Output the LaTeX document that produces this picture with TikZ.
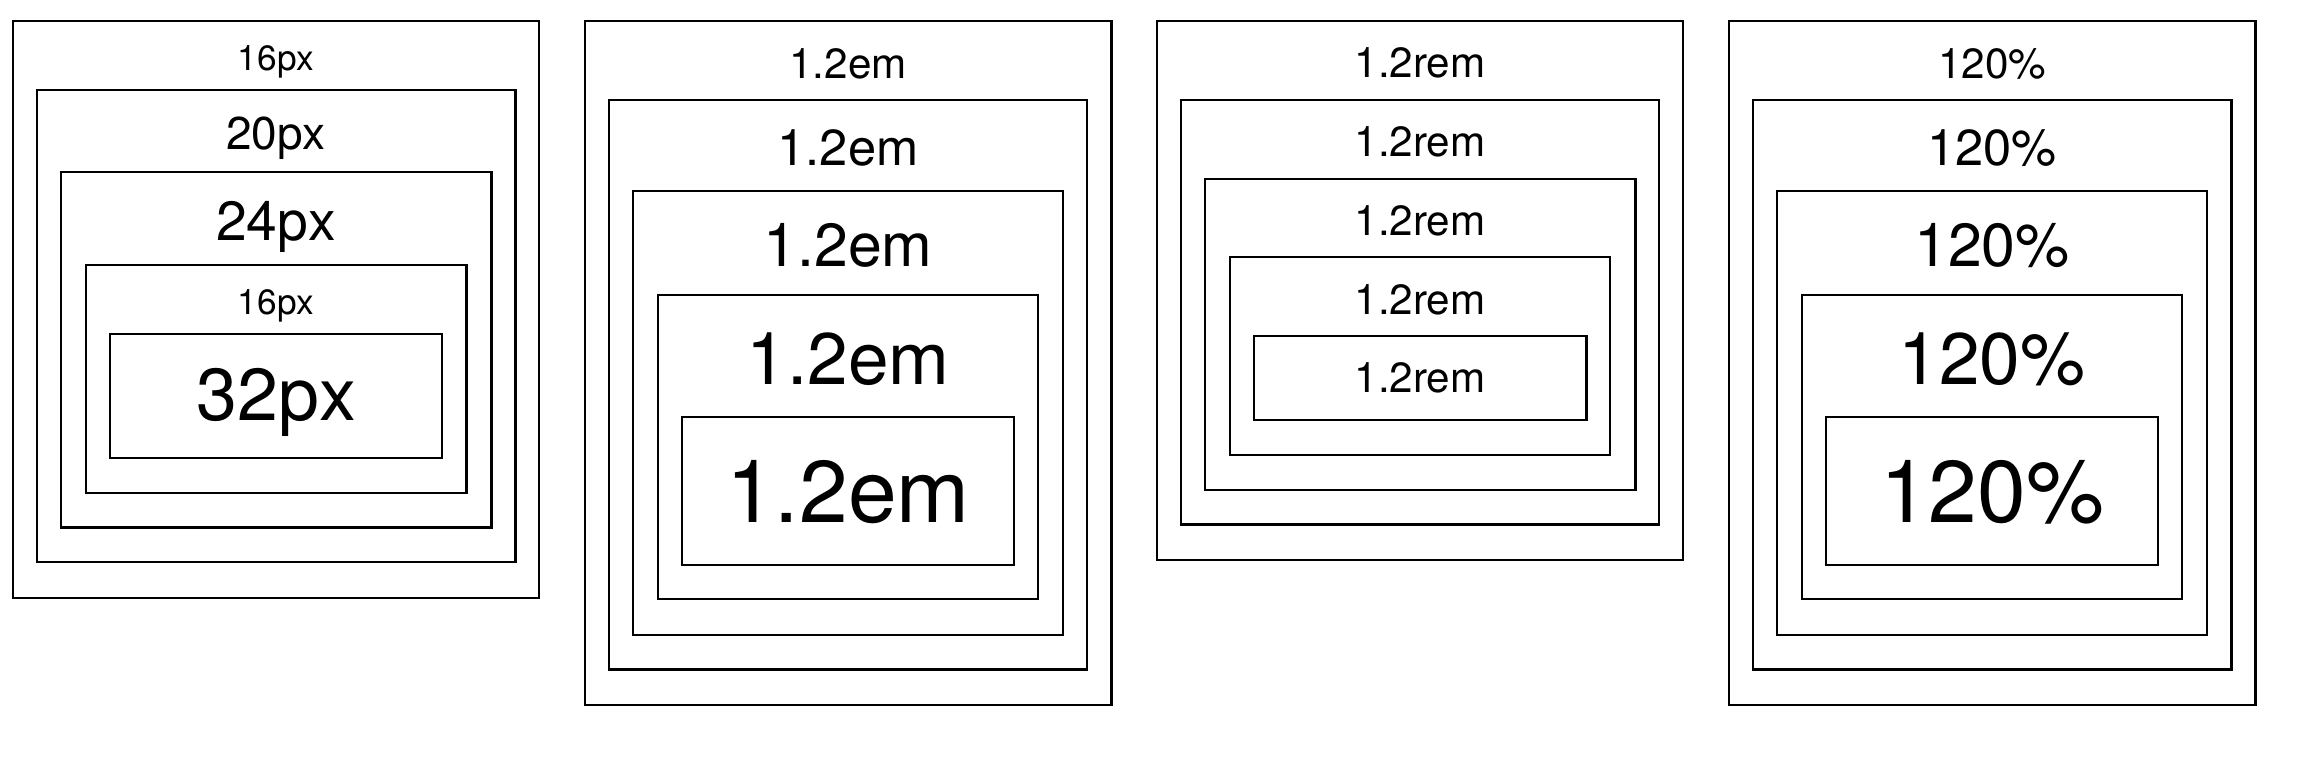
\documentclass[tikz,border=0pt]{standalone}
\usepackage{fontspec}
\setmainfont{TeX Gyre Heros}
\begin{document}
\begin{tikzpicture}[x=0.5pt,y=-0.5pt,
  frame/.style={draw=black, line width=1.1pt},
  lbl/.style={anchor=base, inner sep=0pt, text=black},
  fA/.style={font=\fontsize{17.6}{20}\selectfont},
  fB/.style={font=\fontsize{23}{25}\selectfont},
  fC/.style={font=\fontsize{27.6}{30}\selectfont},
  fD/.style={font=\fontsize{36.8}{40}\selectfont},
  eA/.style={font=\fontsize{21.1}{23}\selectfont},
  eB/.style={font=\fontsize{25.3}{27}\selectfont},
  eC/.style={font=\fontsize{30.4}{32}\selectfont},
  eD/.style={font=\fontsize{36.5}{39}\selectfont},
  eE/.style={font=\fontsize{43.8}{46}\selectfont}]
\useasboundingbox[fill=white] (0,0) rectangle (2310,766);

% ---- column 1 (px) ----
\draw[frame] (12.9,20.9) rectangle (539.3,597.8);
\draw[frame] (36.8,90.1) rectangle (515.4,562.3);
\draw[frame] (61.1,172) rectangle (491.4,527.4);
\draw[frame] (86.1,264.9) rectangle (466.4,492.7);
\draw[frame] (109.6,334.1) rectangle (442.1,457.9);
\node[lbl,fA] (a1) at (276.1,70.4) {16px};
\node[lbl,fB] (a2) at (276.1,149.5) {20px};
\node[lbl,fC] (a3) at (276.1,240) {24px};
\node[lbl,fA] (a4) at (276.1,314.4) {16px};
\node[lbl,fD] (a5) at (276.1,420.3) {32px};

% ---- column 2 (em) ----
\draw[frame] (584.6,21.1) rectangle (1111.4,704.8);
\draw[frame] (608.6,99.6) rectangle (1087.1,669.5);
\draw[frame] (632.9,191.1) rectangle (1063.2,635);
\draw[frame] (657.9,294.8) rectangle (1037.9,599.3);
\draw[frame] (681.8,417) rectangle (1014.3,564.8);
\node[lbl,eA] (b1) at (848,78) {1.2em};
\node[lbl,eB] (b2) at (848,165.3) {1.2em};
\node[lbl,eC] (b3) at (848,266.3) {1.2em};
\node[lbl,eD] (b4) at (848,384.8) {1.2em};
\node[lbl,eE] (b5) at (848,522.5) {1.2em};

% ---- column 3 (rem) ----
\draw[frame] (1156.8,21.1) rectangle (1683.2,559.7);
\draw[frame] (1181.1,99.8) rectangle (1658.9,524.5);
\draw[frame] (1204.6,179.1) rectangle (1635.4,490.1);
\draw[frame] (1229.6,256.8) rectangle (1610,455);
\draw[frame] (1253.6,335.9) rectangle (1586.4,419.9);
\node[lbl,eA] (c1) at (1420,77.7) {1.2rem};
\node[lbl,eA] (c2) at (1420,156.5) {1.2rem};
\node[lbl,eA] (c3) at (1420,235.6) {1.2rem};
\node[lbl,eA] (c4) at (1420,314.4) {1.2rem};
\node[lbl,eA] (c5) at (1420,392.8) {1.2rem};

% ---- column 4 (%) ----
\draw[frame] (1728.6,21.1) rectangle (2255.4,704.8);
\draw[frame] (1752.9,99.6) rectangle (2231.4,669.5);
\draw[frame] (1776.8,191.1) rectangle (2207.1,635);
\draw[frame] (1801.8,294.8) rectangle (2182.1,599.3);
\draw[frame] (1825.7,417) rectangle (2158.2,564.8);
\node[lbl,eA] (d1) at (1992,78) {120\%};
\node[lbl,eB] (d2) at (1992,165.3) {120\%};
\node[lbl,eC] (d3) at (1992,266.3) {120\%};
\node[lbl,eD] (d4) at (1992,384.8) {120\%};
\node[lbl,eE] (d5) at (1992,522.5) {120\%};
\end{tikzpicture}
\end{document}
